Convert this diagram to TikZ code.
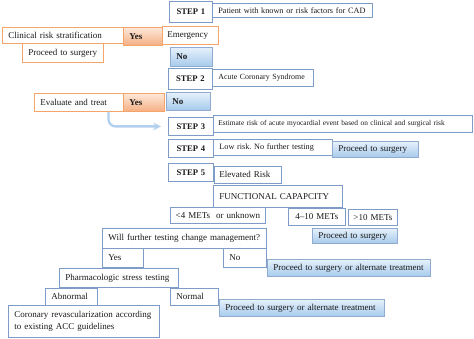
\documentclass[tikz,border=0pt]{standalone}
\usepackage{fontspec}
\setmainfont{Liberation Serif}
\frenchspacing
\usetikzlibrary{positioning,calc,arrows}
\definecolor{ink}     {HTML}{1A1A1A}
\definecolor{frame}   {HTML}{7E9CC8}
\definecolor{flow}    {HTML}{F5A46A}
\definecolor{skytop}  {HTML}{E6F1FB}
\definecolor{skybot}  {HTML}{A6CAEC}
\definecolor{peachtop}{HTML}{FDE8DA}
\definecolor{peachbot}{HTML}{F5AF82}
\definecolor{route}   {HTML}{B3D0EE}
\tikzset{
  >=stealth,
  every node/.style={font=\fontsize{9}{11}\selectfont, text=ink,
                     execute at begin node={\hyphenpenalty=10000\exhyphenpenalty=10000}},
  % --- boxes
  box/.style     = {draw=frame, fill=white, line width=0.8pt, anchor=north west,
                    inner xsep=6pt, inner ysep=0pt, align=left},
  stepbox/.style = {box, align=center, font=\fontsize{8.6}{10}\selectfont\bfseries},
  small/.style   = {font=\fontsize{8.2}{10}\selectfont},
  mid/.style     = {align=center, inner xsep=3pt},
  warm/.style    = {box, draw=flow},
  yesbox/.style  = {warm, top color=peachtop, bottom color=peachbot,
                    font=\fontsize{9}{11}\selectfont\bfseries},
  gobox/.style   = {box, draw=frame!85, top color=skytop, bottom color=skybot},
  nobox/.style   = {gobox, font=\fontsize{9}{11}\selectfont\bfseries},
  % --- connector
  detour/.style  = {->, draw=route, line width=2.4pt, rounded corners=7pt, shorten >=7pt},
}
\begin{document}
\begin{tikzpicture}[x=1pt, y=-1pt]
  \useasboundingbox (0,0) rectangle (474,338);

  % step 1
  \node[stepbox, text width=31, minimum height=21] (step1) at (169,1) {STEP 1};
  \node[box, small, text width=148, minimum height=14] (patient) at (212,3)
    {Patient with known or risk factors for CAD};
  \node[warm, text width=109, minimum height=16] (clinical) at (2,27) {Clinical risk stratification};
  \node[yesbox, text width=27, minimum height=18] (yesemerg) at (123,27) {Yes};
  \node[warm, text width=46, minimum height=18, inner xsep=5pt] (emergency) at (162,26) {Emergency};
  \node[warm, text width=69, minimum height=19] (surgeryA) at (22,43) {Proceed to surgery};
  \node[nobox, text width=30, minimum height=19] (noemerg) at (170,47) {No};

  % step 2
  \node[stepbox, text width=32, minimum height=21] (step2) at (168,68) {STEP 2};
  \node[box, small, text width=89, minimum height=17, font=\fontsize{7.9}{10}\selectfont] (acs)
    at (212,69) {Acute Coronary Syndrome};
  \node[warm, text width=77, minimum height=18] (evaluate) at (34,93) {Evaluate and treat};
  \node[yesbox, text width=29, minimum height=18] (yesacs) at (123,93) {Yes};
  \node[nobox, text width=32, minimum height=18] (noacs) at (166,92) {No};

  % step 3 to 5
  \node[stepbox, text width=33, minimum height=18] (step3) at (168,117) {STEP 3};
  \node[box, text width=249, minimum height=17, inner xsep=5pt, font=\fontsize{7.4}{10}\selectfont]
    (estimate) at (213,115)
    {Estimate risk of acute myocardial event based on clinical and surgical risk};
  \node[stepbox, text width=33, minimum height=18] (step4) at (168,139) {STEP 4};
  \node[box, small, text width=107, minimum height=16] (lowrisk) at (213,139)
    {Low risk. No further testing};
  \node[gobox, text width=74, minimum height=16] (surgeryB) at (332,141) {Proceed to surgery};
  \node[stepbox, text width=33, minimum height=18] (step5) at (168,163) {STEP 5};
  \node[box, text width=57, minimum height=17, inner xsep=5pt] (elevated) at (214,166) {Elevated Risk};
  \node[box, text width=117, minimum height=22] (capacity) at (213,185) {FUNCTIONAL CAPAPCITY};

  % functional capacity
  \node[box, mid, text width=89, minimum height=16] (metslow) at (170,207) {<4 METs\ \ or unknown};
  \node[box, mid, text width=51, minimum height=17] (metsmid) at (288,208) {4–10 METs};
  \node[box, mid, text width=43, minimum height=16] (metshigh) at (348,209) {>10 METs};
  \node[box, text width=152, minimum height=20] (testing) at (102,228)
    {Will further testing change management?};
  \node[gobox, text width=73, minimum height=15] (surgeryC) at (312,228) {Proceed to surgery};
  \node[box, text width=29, minimum height=19] (yestest) at (102,248) {Yes};
  \node[box, text width=31, minimum height=19] (notest) at (223,248) {No};
  \node[gobox, text width=151, minimum height=17] (altA) at (267,259)
    {Proceed to surgery or alternate treatment};
  \node[box, text width=107, minimum height=19] (pharma) at (59,268) {Pharmacologic stress testing};
  \node[box, text width=40, minimum height=17] (abnormal) at (45,288) {Abnormal};
  \node[box, text width=36, minimum height=17] (normal) at (170,288) {Normal};
  \node[gobox, text width=153, minimum height=17] (altB) at (219,299)
    {Proceed to surgery or alternate treatment};
  \node[box, text width=139, minimum height=32, font=\fontsize{9}{12}\selectfont] (revasc) at (8,305)
    {Coronary revascularization according\\to existing ACC guidelines};

  % no acute syndrome: on to step 3
  \coordinate (evalout) at ($(evaluate.south west)!0.83!(evaluate.south east)$);
  \draw[detour] (evalout) |- (step3.west);
\end{tikzpicture}
\end{document}
